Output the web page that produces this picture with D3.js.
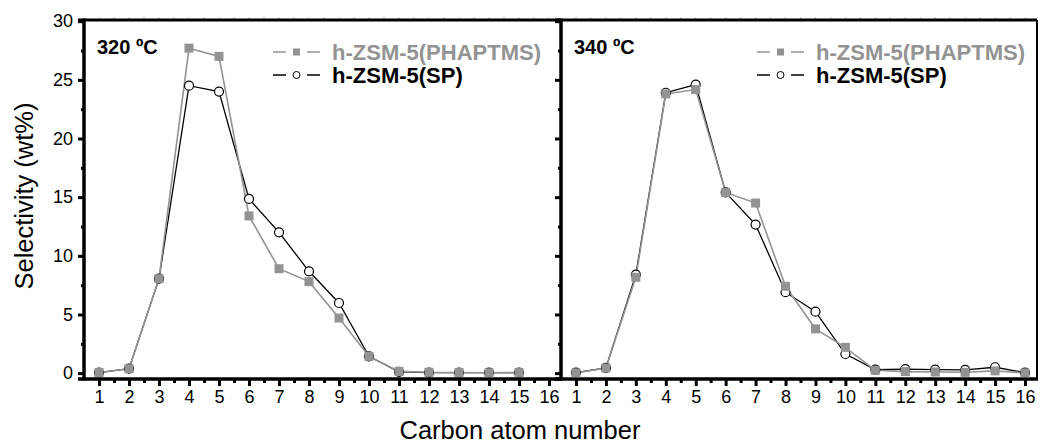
<!DOCTYPE html>
<html>
<head>
<meta charset="utf-8">
<script src="https://cdn.jsdelivr.net/npm/d3@7"></script>
<style>
  body { margin: 0; background: #fff; }
  text { font-family: "Liberation Sans", Arial, sans-serif; }
</style>
</head>
<body>
<div id="chart"></div>
<script>
// carbon atom number on x
const carbon320 = [1, 2, 3, 4, 5, 6, 7, 8, 9, 10, 11, 12, 13, 14, 15]
const carbon340 = [1, 2, 3, 4, 5, 6, 7, 8, 9, 10, 11, 12, 13, 14, 15, 16]

// selectivity (wt%)
const phaptms320 = [0.05, 0.38, 8.05, 27.7, 27.0, 13.4, 8.9, 7.8, 4.7, 1.43, 0.15, 0.07, 0.05, 0.03, 0.05]
const sp320      = [0.05, 0.38, 8.05, 24.5, 24.0, 14.85, 12.0, 8.68, 5.98, 1.43, 0.1, 0.05, 0.05, 0.05, 0.05]
const phaptms340 = [0.02, 0.44, 8.17, 23.8, 24.17, 15.4, 14.5, 7.4, 3.77, 2.2, 0.24, 0.13, 0.1, 0.07, 0.19, 0.02]
const sp340      = [0.05, 0.44, 8.4, 23.9, 24.6, 15.4, 12.66, 6.9, 5.24, 1.63, 0.3, 0.35, 0.3, 0.28, 0.5, 0.05]

const xTicks = [1, 2, 3, 4, 5, 6, 7, 8, 9, 10, 11, 12, 13, 14, 15, 16]
const yTicks = [0, 5, 10, 15, 20, 25, 30]
const seriesNames = ['h-ZSM-5(PHAPTMS)', 'h-ZSM-5(SP)']
const panelLabels = ['320 ºC', '340 ºC']

const width = 1040
const height = 448
const plotTop = 20, plotBottom = 379
const gray = '#939393'

const svg = d3.select('#chart').append('svg')
    .attr('width', width)
    .attr('height', height)

const yScale = d3.scaleLinear()
    .domain([-0.5, 30.1])
    .range([plotBottom, plotTop])

const panels = [
    {left: 84, right: 561, label: panelLabels[0], x: carbon320, a: phaptms320, b: sp320, showY: true, legendX: 273, border: false},
    {left: 561, right: 1037, label: panelLabels[1], x: carbon340, a: phaptms340, b: sp340, showY: false, legendX: 757, border: true}
]

panels.forEach(p => drawPanel(p))

function drawPanel(p) {
    const xScale = d3.scaleLinear()
        .domain([0.5, 16.4])
        .range([p.left, p.right])

    const g = svg.append('g')

    // faint ticks along the top border
    g.append('g').selectAll('line')
        .data(d3.range(1, 16.5, 0.5))
        .join('line')
        .attr('x1', d => xScale(d)).attr('x2', d => xScale(d))
        .attr('y1', plotTop - 3).attr('y2', plotTop)
        .attr('stroke', '#bbb')
        .attr('stroke-width', 1)

    // top border
    g.append('line')
        .attr('x1', p.left - 6).attr('x2', p.right)
        .attr('y1', plotTop).attr('y2', plotTop)
        .attr('stroke', '#000').attr('stroke-width', 3)

    if (p.border) {
        g.append('line')
            .attr('x1', p.right).attr('x2', p.right)
            .attr('y1', plotTop).attr('y2', plotBottom)
            .attr('stroke', '#000').attr('stroke-width', 2)
    }

    // x axis, major + minor ticks
    const xAxis = d3.axisBottom(xScale)
        .tickValues(xTicks)
        .tickSize(7)
        .tickSizeOuter(0)
        .tickPadding(4)
        .tickFormat(d3.format('d'))

    const xMinor = d3.axisBottom(xScale)
        .tickValues(d3.range(1.5, 16.5, 1))
        .tickSize(4)
        .tickSizeOuter(0)
        .tickFormat('')

    const xMinorG = g.append('g').attr('transform', `translate(0,${plotBottom})`).call(xMinor)
    xMinorG.select('.domain').remove()
    xMinorG.selectAll('line').attr('stroke-width', 3)

    const xAxisG = g.append('g').attr('transform', `translate(0,${plotBottom})`).call(xAxis)
    xAxisG.select('.domain').remove()
    xAxisG.selectAll('line').attr('stroke-width', 3)
    xAxisG.selectAll('text')
        .attr('font-size', 18)
        .attr('fill', '#000')

    // y axis
    const yAxis = d3.axisLeft(yScale)
        .tickValues(yTicks)
        .tickSize(6)
        .tickSizeOuter(0)
        .tickPadding(5)
        .tickFormat(p.showY ? d3.format('d') : '')

    const yMinor = d3.axisLeft(yScale)
        .tickValues([2.5, 7.5, 12.5, 17.5, 22.5, 27.5])
        .tickSize(3)
        .tickSizeOuter(0)
        .tickFormat('')

    const yMinorG = g.append('g').attr('transform', `translate(${p.left},0)`).call(yMinor)
    yMinorG.select('.domain').remove()
    yMinorG.selectAll('line').attr('stroke-width', 3)

    const yAxisG = g.append('g').attr('transform', `translate(${p.left},0)`).call(yAxis)
    yAxisG.select('.domain').remove()
    yAxisG.selectAll('line').attr('stroke-width', 3)
    yAxisG.selectAll('text')
        .attr('font-size', 18)
        .attr('fill', '#000')

    // axis lines
    g.append('line')
        .attr('x1', p.left - 6).attr('x2', p.right + 1)
        .attr('y1', plotBottom).attr('y2', plotBottom)
        .attr('stroke', '#000').attr('stroke-width', 3.5)
    g.append('line')
        .attr('x1', p.left).attr('x2', p.left)
        .attr('y1', plotTop - 1.5).attr('y2', plotBottom + 1.5)
        .attr('stroke', '#000').attr('stroke-width', 3.5)

    // lines
    const lineA = d3.line()
        .x((d, i) => xScale(p.x[i]))
        .y(d => yScale(d))

    g.append('path')
        .attr('d', lineA(p.b))
        .attr('fill', 'none')
        .attr('stroke', '#000')
        .attr('stroke-width', 1.3)

    g.append('path')
        .attr('d', lineA(p.a))
        .attr('fill', 'none')
        .attr('stroke', gray)
        .attr('stroke-width', 1.6)

    // markers: open circles for SP, grey squares for PHAPTMS
    g.append('g').selectAll('circle')
        .data(p.b)
        .join('circle')
        .attr('cx', (d, i) => xScale(p.x[i]))
        .attr('cy', d => yScale(d))
        .attr('r', 4.5)
        .attr('fill', '#fff')
        .attr('stroke', '#000')
        .attr('stroke-width', 1.2)

    g.append('g').selectAll('rect')
        .data(p.a)
        .join('rect')
        .attr('x', (d, i) => xScale(p.x[i]) - 4.5)
        .attr('y', d => yScale(d) - 4.5)
        .attr('width', 9)
        .attr('height', 9)
        .attr('fill', gray)

    // panel label
    g.append('text')
        .attr('x', p.left + 13)
        .attr('y', 54)
        .attr('font-size', 20)
        .attr('font-weight', 'bold')
        .text(p.label)

    // legend
    const lx = p.legendX
    const rows = [52, 75]
    const legendG = g.append('g')
    rows.forEach((ry, i) => {
        const col = i === 0 ? gray : '#000'
        legendG.append('line')
            .attr('x1', lx).attr('x2', lx + 13)
            .attr('y1', ry).attr('y2', ry)
            .attr('stroke', col).attr('stroke-width', 1.5)
        legendG.append('line')
            .attr('x1', lx + 34).attr('x2', lx + 47)
            .attr('y1', ry).attr('y2', ry)
            .attr('stroke', col).attr('stroke-width', 1.5)
        if (i === 0) {
            legendG.append('rect')
                .attr('x', lx + 20).attr('y', ry - 3.5)
                .attr('width', 7).attr('height', 7)
                .attr('fill', gray)
        } else {
            legendG.append('circle')
                .attr('cx', lx + 23.5).attr('cy', ry)
                .attr('r', 3.5)
                .attr('fill', '#fff')
                .attr('stroke', '#000')
                .attr('stroke-width', 1)
        }
        legendG.append('text')
            .attr('x', lx + 59)
            .attr('y', ry)
            .attr('dy', '0.35em')
            .attr('font-size', 22)
            .attr('font-weight', 'bold')
            .attr('fill', col)
            .text(seriesNames[i])
    })
}

// axis titles
svg.append('text')
    .attr('x', 520)
    .attr('y', 439)
    .attr('text-anchor', 'middle')
    .attr('font-size', 25.5)
    .text('Carbon atom number')

svg.append('text')
    .attr('transform', `translate(33,196) rotate(-90)`)
    .attr('text-anchor', 'middle')
    .attr('font-size', 25.5)
    .text('Selectivity (wt%)')
</script>
</body>
</html>
